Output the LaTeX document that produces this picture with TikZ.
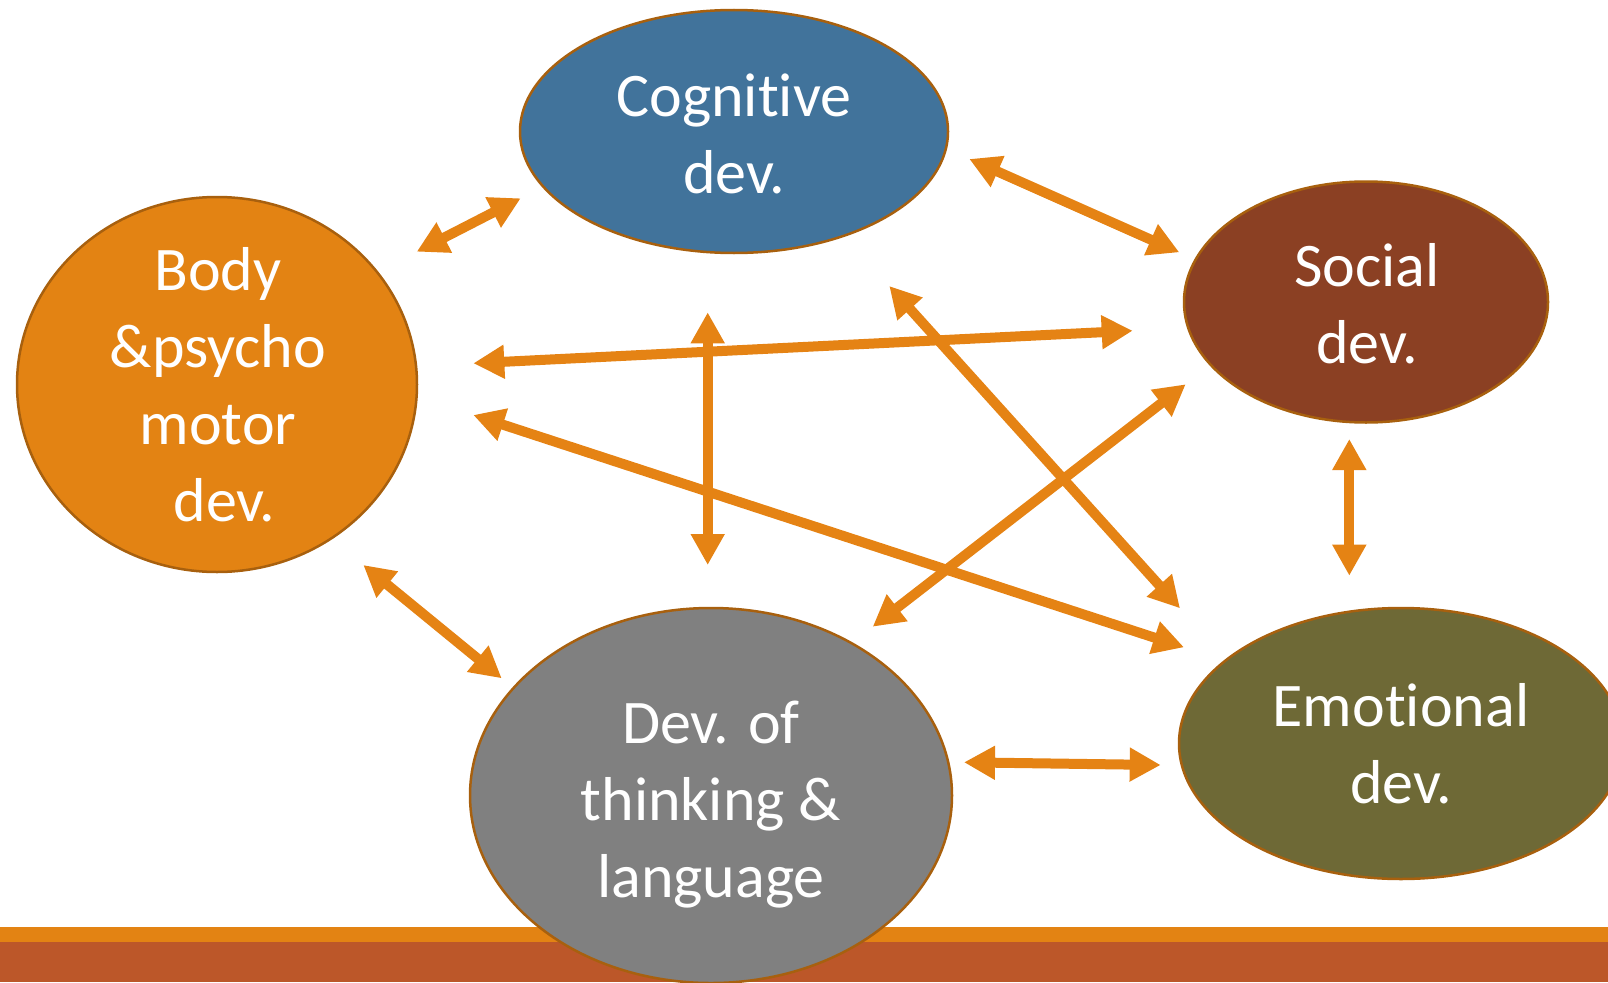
\documentclass[tikz,border=0pt]{standalone}
\usepackage{fontspec}
\setmainfont{Carlito}[Ligatures=NoCommon]
\usetikzlibrary{arrows.meta,shapes.geometric}
\definecolor{cogblue}{HTML}{41739B}
\definecolor{socbrown}{HTML}{8B4023}
\definecolor{bodyorange}{HTML}{E38313}
\definecolor{thinkgray}{HTML}{808080}
\definecolor{emoolive}{HTML}{6E6936}
\definecolor{bordr}{HTML}{A8600E}
\definecolor{arrowc}{HTML}{E58314}
\definecolor{barorange}{HTML}{E38313}
\definecolor{barrust}{HTML}{BC5729}
\newcommand\lnstrut{\rule[-20pt]{0pt}{77pt}}
\begin{document}
\begin{tikzpicture}[x=1pt,y=-1pt,
  bubble/.style={ellipse, draw=bordr, line width=2.5pt, inner sep=0pt},
  lbl/.style={text=white, align=center, font=\fontsize{62}{77}\selectfont, inner sep=0pt},
  link/.style={draw=arrowc, line width=10pt,
    {Triangle[length=31pt,width=32pt]}-{Triangle[length=31pt,width=32pt]}}]
\useasboundingbox (0,0) rectangle (1608,982);
\clip (0,0) rectangle (1608,982);
% bottom bars
\fill[barorange] (0,927) rectangle (1608,942);
\fill[barrust] (0,942) rectangle (1608,982);
% ellipses
\node[bubble, fill=cogblue, minimum width=428pt, minimum height=243pt] (cog) at (734,131.5) {};
\node[bubble, fill=socbrown, minimum width=364pt, minimum height=241pt] (soc) at (1366,302) {};
\node[bubble, fill=bodyorange, minimum width=400pt, minimum height=375pt] (body) at (217,384.5) {};
\node[bubble, fill=thinkgray, minimum width=482pt, minimum height=375pt] (think) at (711,795.5) {};
\node[bubble, fill=emoolive, minimum width=444pt, minimum height=271pt] (emo) at (1401,743.5) {};
% labels
\node[lbl] (cogt) at (734,136) {\lnstrut Cognitive\\\lnstrut dev.};
\node[lbl] (soct) at (1367,306) {\lnstrut Social\\\lnstrut dev.};
\node[lbl] (bodyt) at (218,387) {\lnstrut Body\\\lnstrut\&psycho\\\lnstrut motor\\\lnstrut\hspace*{13pt}dev.};
\node[lbl] (thinkt) at (711,801.5) {\lnstrut Dev. of\\\lnstrut thinking \&\\\lnstrut language};
\node[lbl] (emot) at (1401,746.7) {\lnstrut Emotional\\\lnstrut dev.};
% arrow end points
\coordinate (a1s) at (416.7,251.7);  \coordinate (a1e) at (520.7,198.3);
\coordinate (a2s) at (969.3,159);    \coordinate (a2e) at (1179.3,252.3);
\coordinate (a3s) at (473.3,363.3);  \coordinate (a3e) at (1132.7,330.7);
\coordinate (a4s) at (707.7,312.3);  \coordinate (a4e) at (707.7,565);
\coordinate (a5s) at (473.3,415);    \coordinate (a5e) at (1184,647.3);
\coordinate (a6s) at (889.3,286);    \coordinate (a6e) at (1180,608.3);
\coordinate (a7s) at (872.7,626.7);  \coordinate (a7e) at (1185.7,384.3);
\coordinate (a8s) at (1349.3,439);   \coordinate (a8e) at (1349.3,575.7);
\coordinate (a9s) at (363.3,565);    \coordinate (a9e) at (501.7,678.3);
\coordinate (a10s) at (964,762.3);   \coordinate (a10e) at (1160.7,765);
% arrows
\draw[link] (a1s) -- (a1e);
\draw[link] (a2s) -- (a2e);
\draw[link] (a3s) -- (a3e);
\draw[link] (a4s) -- (a4e);
\draw[link] (a5s) -- (a5e);
\draw[link] (a6s) -- (a6e);
\draw[link] (a7s) -- (a7e);
\draw[link] (a8s) -- (a8e);
\draw[link] (a9s) -- (a9e);
\draw[link] (a10s) -- (a10e);
\end{tikzpicture}
\end{document}
